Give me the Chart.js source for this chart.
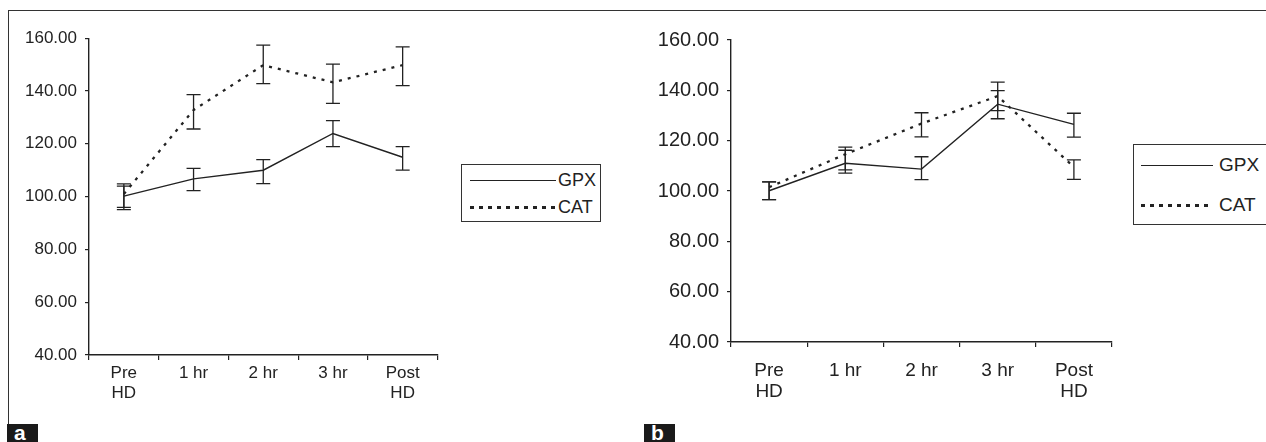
<!DOCTYPE html>
<html>
<head>
<meta charset="utf-8">
<script src="https://cdn.jsdelivr.net/npm/chart.js@4.4.1/dist/chart.umd.min.js"></script>
<style>
  html, body { margin: 0; padding: 0; background: #fff; }
  body { width: 1266px; height: 442px; position: relative; overflow: hidden;
         font-family: "Liberation Sans", Arial, sans-serif; color: #222; }
  .frameTop  { position: absolute; left: 8px; top: 10px; width: 1258px; height: 0; border-top: 1.5px solid #333; }
  .frameLeft { position: absolute; left: 8px; top: 10px; width: 0; height: 414px; border-left: 1.5px solid #333; }
  .wrap { position: absolute; }
  .legend { position: absolute; border: 1.5px solid #333; background: #fff; box-sizing: border-box; }
  .row { position: absolute; display: flex; align-items: center; }
  .sw { display: inline-block; }
  .solid { height: 0; border-top: 1.4px solid #222; }
  .dots { height: 3px; background: repeating-linear-gradient(to right, #222 0 4px, transparent 4px 9px); }
  .tag { position: absolute; background: #1a1a1a; color: #fff; font-weight: bold;
         font-size: 21px; line-height: 17px; padding-left: 7px; box-sizing: border-box; }
</style>
</head>
<body>
<div class="frameTop"></div>
<div class="frameLeft"></div>

<div class="wrap" style="left:10px;top:20px;width:435px;height:400px"><canvas id="chartA"></canvas></div>
<div class="wrap" style="left:650px;top:20px;width:470px;height:400px"><canvas id="chartB"></canvas></div>

<div class="legend" style="left:461px;top:164px;width:140px;height:58px">
  <div class="row" style="left:8px;top:5px;font-size:18px"><span class="sw solid" style="width:86px"></span><span style="margin-left:2px">GPX</span></div>
  <div class="row" style="left:8px;top:32px;font-size:18px"><span class="sw dots" style="width:86px"></span><span style="margin-left:2px">CAT</span></div>
</div>
<div class="legend" style="left:1133px;top:144px;width:140px;height:81px">
  <div class="row" style="left:7px;top:9px;font-size:19px"><span class="sw solid" style="width:72px"></span><span style="margin-left:6px">GPX</span></div>
  <div class="row" style="left:7px;top:49px;font-size:19px"><span class="sw dots" style="width:72px"></span><span style="margin-left:6px">CAT</span></div>
</div>

<div class="tag" style="left:7px;top:424px;width:31px;height:18px">a</div>
<div class="tag" style="left:644px;top:424px;width:31px;height:18px">b</div>

<script>
// ── Data ──
const categories = [["Pre", "HD"], "1 hr", "2 hr", "3 hr", ["Post", "HD"]];
const yMin = 40, yMax = 160, yStep = 20;

// panel a
const gpxA     = [100.2, 106.7, 110.0, 123.9, 114.9];
const gpxALow  = [95.9, 102.3, 104.9, 118.9, 110.0];
const gpxAHigh = [104.0, 110.7, 114.0, 128.8, 118.9];
const catA     = [101.0, 132.8, 149.8, 143.3, 149.8];
const catALow  = [95.1, 125.6, 142.8, 135.3, 142.0];
const catAHigh = [104.8, 138.6, 157.4, 150.2, 156.7];

// panel b
const gpxB     = [100.1, 111.0, 108.7, 134.5, 126.5];
const gpxBLow  = [96.6, 107.1, 104.5, 128.7, 121.4];
const gpxBHigh = [103.6, 116.2, 113.6, 139.9, 130.9];
const catB     = [101.5, 114.6, 126.8, 137.7, 109.5];
const catBLow  = [96.6, 108.4, 121.5, 131.9, 104.6];
const catBHigh = [103.6, 117.4, 131.1, 143.3, 112.4];

const INK = "#222";
const FONT = "'Liberation Sans', Arial, sans-serif";

// ── Error bars, drawn from the chart's own scales ──
const errorBars = {
  id: "errorBars",
  afterDatasetsDraw(chart) {
    const ctx = chart.ctx, y = chart.scales.y;
    ctx.save();
    ctx.strokeStyle = INK;
    ctx.lineWidth = 1.3;
    chart.data.datasets.forEach((ds, di) => {
      const meta = chart.getDatasetMeta(di);
      meta.data.forEach((pt, i) => {
        const yl = y.getPixelForValue(ds.errLow[i]);
        const yh = y.getPixelForValue(ds.errHigh[i]);
        const x = pt.x, w = 7;
        ctx.beginPath();
        ctx.moveTo(x, yl); ctx.lineTo(x, yh);
        ctx.moveTo(x - w, yl); ctx.lineTo(x + w, yl);
        ctx.moveTo(x - w, yh); ctx.lineTo(x + w, yh);
        ctx.stroke();
      });
    });
    ctx.restore();
  }
};

function makeChart(id, gpx, gL, gH, cat, cL, cH, o) {
  return new Chart(document.getElementById(id), {
    type: "line",
    data: {
      labels: categories,
      datasets: [
        { label: "GPX", data: gpx, errLow: gL, errHigh: gH,
          borderColor: INK, borderWidth: 1.4, pointRadius: 0, tension: 0, fill: false },
        { label: "CAT", data: cat, errLow: cL, errHigh: cH,
          borderColor: INK, borderWidth: 2.3, borderDash: [3, 6], borderCapStyle: "butt",
          pointRadius: 0, tension: 0, fill: false }
      ]
    },
    options: {
      responsive: true, maintainAspectRatio: false, animation: false,
      layout: { padding: { top: 11, right: o.padRight, left: 0, bottom: 0 } },
      plugins: { legend: { display: false }, tooltip: { enabled: false } },
      scales: {
        x: {
          type: "category", offset: true,
          grid: { drawOnChartArea: false, offset: true, tickLength: 5, color: INK, lineWidth: 1.2 },
          border: { color: INK, width: 1.4 },
          ticks: { color: INK, autoSkip: false, maxRotation: 0, padding: o.xPad,
                   font: { family: FONT, size: o.xSize, lineHeight: o.lh } },
          afterFit: s => { s.height = o.xHeight; }
        },
        y: {
          min: yMin, max: yMax,
          grid: { drawOnChartArea: false, tickLength: 4, color: INK, lineWidth: 1.2 },
          border: { color: INK, width: 1.4 },
          ticks: { stepSize: yStep, color: INK, padding: 8,
                   font: { family: FONT, size: o.ySize },
                   callback: v => Number(v).toFixed(2) },
          afterFit: s => { s.width = o.yWidth; }
        }
      }
    },
    plugins: [errorBars]
  });
}

makeChart("chartA", gpxA, gpxALow, gpxAHigh, catA, catALow, catAHigh,
  { padRight: 7.5, yWidth: 79, xHeight: 65, ySize: 17, xSize: 17, lh: 1.18, xPad: 3 });
makeChart("chartB", gpxB, gpxBLow, gpxBHigh, catB, catBLow, catBHigh,
  { padRight: 8, yWidth: 81, xHeight: 78, ySize: 20, xSize: 19, lh: 1.1, xPad: 13 });
</script>
</body>
</html>
